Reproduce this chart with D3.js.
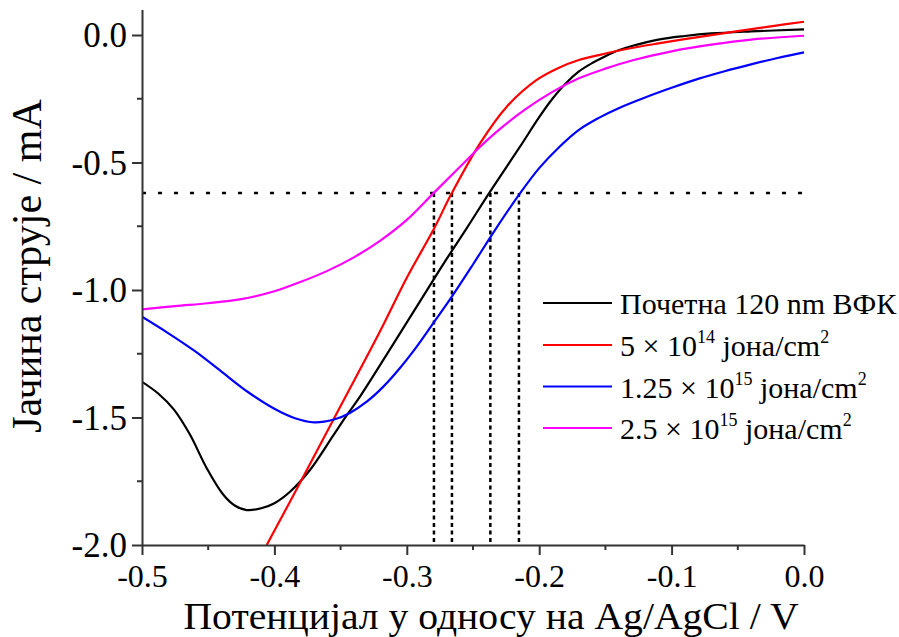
<!DOCTYPE html>
<html>
<head>
<meta charset="utf-8">
<script src="https://cdn.jsdelivr.net/npm/d3@7"></script>
<style>
  html, body { margin: 0; padding: 0; background: #fff; }
  svg { display: block; font-family: "Liberation Serif", "Times New Roman", serif; }
</style>
</head>
<body>
<svg id="chart" width="899" height="637"></svg>
<script>
// ---- data ----
const xTicks = [-0.5, -0.4, -0.3, -0.2, -0.1, 0.0];
const yTicks = [-2.0, -1.5, -1.0, -0.5, 0.0];
const xMinor = [-0.45, -0.35, -0.25, -0.15, -0.05];
const yMinor = [-1.75, -1.25, -0.75, -0.25];

const seriesNames = ["Почетна 120 nm ВФК", "5 × 10¹⁴ јона/cm²", "1.25 × 10¹⁵ јона/cm²", "2.5 × 10¹⁵ јона/cm²"];
const seriesColors = ["#000000", "#ff0000", "#0000ff", "#ff00ff"];

const blackX = [-0.5, -0.488, -0.476, -0.464, -0.451, -0.439, -0.43, -0.421, -0.41, -0.40, -0.388, -0.373, -0.3555, -0.3454, -0.335, -0.31, -0.28, -0.2699, -0.2548, -0.2372, -0.2145, -0.20, -0.19, -0.18, -0.17, -0.16, -0.15, -0.14, -0.13, -0.11, -0.09, -0.07, -0.04, 0.0];
const blackY = [-1.360, -1.405, -1.468, -1.565, -1.700, -1.800, -1.845, -1.863, -1.856, -1.836, -1.790, -1.705, -1.570, -1.492, -1.415, -1.210, -0.961, -0.878, -0.758, -0.615, -0.438, -0.322, -0.250, -0.190, -0.143, -0.110, -0.083, -0.060, -0.043, -0.018, -0.004, 0.006, 0.014, 0.022];

const redX = [-0.4058, -0.38, -0.35, -0.32, -0.30, -0.28, -0.2661, -0.2447, -0.2245, -0.2019, -0.185, -0.17, -0.155, -0.135, -0.11, -0.08, -0.05, -0.025, 0.0];
const redY = [-2.0, -1.75, -1.455, -1.16, -0.952, -0.765, -0.621, -0.425, -0.281, -0.176, -0.128, -0.098, -0.079, -0.056, -0.033, -0.008, 0.015, 0.034, 0.052];

const blueX = [-0.5, -0.48, -0.46, -0.44, -0.42, -0.40, -0.385, -0.37, -0.355, -0.343, -0.33, -0.3177, -0.305, -0.2925, -0.28, -0.2661, -0.2498, -0.2334, -0.2145, -0.20, -0.185, -0.17, -0.155, -0.14, -0.12, -0.10, -0.08, -0.06, -0.04, -0.02, 0.0];
const blueY = [-1.105, -1.170, -1.240, -1.320, -1.400, -1.466, -1.502, -1.519, -1.508, -1.482, -1.437, -1.379, -1.305, -1.222, -1.130, -1.027, -0.898, -0.765, -0.621, -0.522, -0.440, -0.372, -0.325, -0.287, -0.245, -0.207, -0.172, -0.142, -0.115, -0.090, -0.068];

const magentaX = [-0.5, -0.475, -0.45, -0.425, -0.40, -0.38, -0.36, -0.34, -0.32, -0.30, -0.28, -0.26, -0.245, -0.23, -0.21, -0.19, -0.17, -0.15, -0.13, -0.10, -0.07, -0.04, 0.0];
const magentaY = [-1.076, -1.063, -1.052, -1.036, -1.005, -0.968, -0.925, -0.872, -0.806, -0.725, -0.621, -0.518, -0.440, -0.370, -0.290, -0.223, -0.170, -0.132, -0.100, -0.064, -0.038, -0.018, -0.003];

const refLevel = -0.62;
const refX = [-0.2795, -0.2659, -0.2369, -0.2153];

// ---- layout ----
const svg = d3.select("#chart");
const x = d3.scaleLinear().domain([-0.5, 0.0]).range([142, 804]);
const y = d3.scaleLinear().domain([-2.0, 0.1]).range([545, 9.5]);
const axisColor = "#333";
const fmt = d => d.toFixed(1);

// reference dotted lines
const ref = svg.append("g").attr("stroke", "#000").attr("fill", "none");
ref.append("line")
  .attr("x1", x(-0.5)).attr("x2", x(0.0))
  .attr("y1", y(refLevel)).attr("y2", y(refLevel))
  .attr("stroke-width", 2.5).attr("stroke-dasharray", "4 12");
ref.selectAll("line.v").data(refX).join("line").attr("class", "v")
  .attr("x1", d => x(d)).attr("x2", d => x(d))
  .attr("y1", y(refLevel)).attr("y2", y(-2.0))
  .attr("stroke-width", 2.5).attr("stroke-dasharray", "4 3.5");

// curves
const allSeries = [
  [blackX, blackY], [redX, redY], [blueX, blueY], [magentaX, magentaY]
];
svg.append("clipPath").attr("id", "clip").append("rect")
  .attr("x", x(-0.5)).attr("y", y(0.1)).attr("width", x(0) - x(-0.5) + 2).attr("height", y(-2) - y(0.1));
const line = d3.line().x(d => x(d[0])).y(d => y(d[1])).curve(d3.curveCatmullRom.alpha(0.5));
const curves = svg.append("g").attr("clip-path", "url(#clip)");
allSeries.forEach((s, i) => {
  const pts = s[0].map((v, j) => [v, s[1][j]]);
  curves.append("path").datum(pts)
    .attr("d", line).attr("fill", "none")
    .attr("stroke", seriesColors[i]).attr("stroke-width", 2.2)
    .attr("stroke-linejoin", "round");
});

// axes
const xAxis = svg.append("g").attr("transform", `translate(0,${y(-2.0)})`)
  .call(d3.axisBottom(x).tickValues(xTicks).tickFormat(fmt).tickSize(10).tickSizeOuter(0).tickPadding(9));
xAxis.append("g").selectAll("line").data(xMinor).join("line")
  .attr("x1", d => x(d)).attr("x2", d => x(d)).attr("y1", 0).attr("y2", 5)
  .attr("stroke", axisColor).attr("stroke-width", 2);
const yAxis = svg.append("g").attr("transform", `translate(${x(-0.5)},0)`)
  .call(d3.axisLeft(y).tickValues(yTicks).tickFormat(fmt).tickSize(10).tickSizeOuter(0).tickPadding(5));
yAxis.append("g").selectAll("line").data(yMinor).join("line")
  .attr("y1", d => y(d)).attr("y2", d => y(d)).attr("x1", 0).attr("x2", -5)
  .attr("stroke", axisColor).attr("stroke-width", 2);

[xAxis, yAxis].forEach(g => {
  g.select(".domain").attr("stroke", axisColor).attr("stroke-width", 2);
  g.selectAll(".tick line").attr("stroke", axisColor).attr("stroke-width", 2);
  g.selectAll(".tick text").attr("fill", "#000")
    .style("font-family", '"Liberation Serif", serif');
});
xAxis.selectAll(".tick text").style("font-size", "32px");
yAxis.selectAll(".tick text").style("font-size", "35px").attr("dy", "0.33em");

// axis titles
svg.append("text").attr("x", 491).attr("y", 629).attr("text-anchor", "middle")
  .style("font-size", "38px").attr("fill", "#000")
  .attr("textLength", 615).attr("lengthAdjust", "spacingAndGlyphs")
  .text("Потенцијал у односу на Ag/AgCl / V");
svg.append("text").attr("transform", "translate(41,266) rotate(-90)").attr("text-anchor", "middle")
  .style("font-size", "42px").attr("fill", "#000")
  .text("Јачина струје / mA");

// legend
const legendParts = [
  [["Почетна 120 nm ВФК", false]],
  [["5 × 10", false], ["14", true], [" јона/cm", false], ["2", true]],
  [["1.25 × 10", false], ["15", true], [" јона/cm", false], ["2", true]],
  [["2.5 × 10", false], ["15", true], [" јона/cm", false], ["2", true]]
];
const legendY = [303, 345, 386.5, 428];
const legend = svg.append("g");
legendParts.forEach((parts, i) => {
  legend.append("line").attr("x1", 543).attr("x2", 612)
    .attr("y1", legendY[i]).attr("y2", legendY[i])
    .attr("stroke", seriesColors[i]).attr("stroke-width", 2.2);
  const t = legend.append("text").attr("x", 620).attr("y", legendY[i] + 11)
    .style("font-size", "30px").attr("fill", "#000");
  let raised = false;
  parts.forEach(([s, sup]) => {
    const ts = t.append("tspan").text(s);
    if (sup && !raised) { ts.attr("dy", -13).style("font-size", "18px"); raised = true; }
    else if (!sup && raised) { ts.attr("dy", 13); raised = false; }
    else if (sup) ts.style("font-size", "18px");
  });
});
</script>
</body>
</html>
